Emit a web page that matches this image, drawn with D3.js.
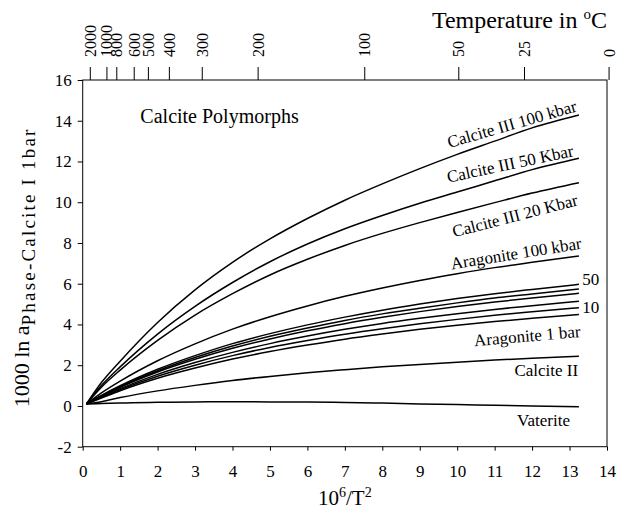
<!DOCTYPE html>
<html><head><meta charset="utf-8">
<script src="https://cdn.jsdelivr.net/npm/d3@7"></script>
<style>
body{margin:0;background:#fff;}
text{font-family:"Liberation Serif","Times New Roman",serif;fill:#000;}
</style></head>
<body><svg id="chart" width="617" height="519"></svg>
<script>
// ---- data ----
const xValues = [0.1, 0.5, 1, 2, 3, 4, 5, 6, 7, 8, 9, 10, 11, 12, 13.25];
const calciteIII100 = [0.1, 1.15, 2.2, 4.1, 5.7, 7.05, 8.2, 9.2, 10.1, 10.9, 11.65, 12.35, 13.0, 13.65, 14.28];
const calciteIII50  = [0.1, 1.0, 1.92, 3.53, 4.89, 6.06, 7.08, 7.95, 8.7, 9.35, 9.95, 10.5, 11.05, 11.6, 12.16];
const calciteIII20  = [0.1, 0.92, 1.76, 3.22, 4.46, 5.51, 6.43, 7.2, 7.88, 8.47, 9.0, 9.5, 9.98, 10.45, 10.96];
const aragonite100  = [0.1, 0.64, 1.22, 2.22, 3.05, 3.77, 4.38, 4.91, 5.38, 5.79, 6.16, 6.49, 6.79, 7.05, 7.36];
const aragonite50   = [0.1, 0.52, 0.99, 1.80, 2.47, 3.06, 3.55, 3.98, 4.36, 4.70, 5.00, 5.27, 5.51, 5.72, 5.97];
const aragonite40   = [0.1, 0.50, 0.95, 1.73, 2.38, 2.94, 3.42, 3.83, 4.20, 4.52, 4.80, 5.06, 5.30, 5.50, 5.74];
const aragonite30   = [0.1, 0.48, 0.92, 1.67, 2.29, 2.83, 3.29, 3.69, 4.04, 4.35, 4.63, 4.88, 5.10, 5.30, 5.53];
const aragonite20   = [0.1, 0.45, 0.85, 1.55, 2.13, 2.63, 3.06, 3.43, 3.76, 4.05, 4.30, 4.53, 4.74, 4.92, 5.14];
const aragonite10   = [0.1, 0.42, 0.80, 1.46, 2.00, 2.47, 2.87, 3.21, 3.52, 3.79, 4.03, 4.25, 4.45, 4.62, 4.82];
const aragonite1    = [0.1, 0.39, 0.75, 1.36, 1.86, 2.30, 2.67, 2.99, 3.28, 3.53, 3.76, 3.96, 4.14, 4.30, 4.49];
const calciteII     = [0.1, 0.21, 0.41, 0.74, 1.01, 1.25, 1.45, 1.63, 1.78, 1.92, 2.04, 2.15, 2.25, 2.34, 2.44];
const vaterite      = [0.1, 0.12, 0.15, 0.18, 0.20, 0.21, 0.20, 0.19, 0.17, 0.14, 0.10, 0.07, 0.03, 0.0, -0.04];
const seriesList = [calciteIII100, calciteIII50, calciteIII20, aragonite100, aragonite50, aragonite40,
  aragonite30, aragonite20, aragonite10, aragonite1, calciteII, vaterite];
const xTicks = [0,1,2,3,4,5,6,7,8,9,10,11,12,13,14];
const yTicks = [-2,0,2,4,6,8,10,12,14,16];
const tempTicks = [2000,1000,800,600,500,400,300,200,100,50,25,0];
const curveLabels = ["Calcite III 100 kbar","Calcite III 50 Kbar","Calcite III 20 Kbar","Aragonite 100 kbar",
  "Aragonite 1 bar","Calcite II","Vaterite","50","10"];

// ---- layout ----
const svg = d3.select("#chart");
const SERIF = "Liberation Serif, Times New Roman, serif";
const L = 82.7, R = 607, T = 80, B = 446.7;
const x = d3.scaleLinear().domain([0,14]).range([L,R]);
const y = d3.scaleLinear().domain([-2,16]).range([B,T]);
const xTop = d3.scaleLinear().domain([0,13.35]).range([L,R]);

// frame
svg.append("rect").attr("x",L).attr("y",T).attr("width",R-L).attr("height",B-T)
  .attr("fill","none").attr("stroke","#000").attr("stroke-width",1);

// bottom axis
const gx = svg.append("g").attr("transform",`translate(0,${B})`)
  .call(d3.axisBottom(x).tickValues(xTicks).tickSize(4).tickPadding(14).tickFormat(d=>String(d)));
gx.attr("font-family",SERIF).attr("font-size",17);
gx.select(".domain").remove();

// left axis
const gy = svg.append("g").attr("transform",`translate(${L},0)`)
  .call(d3.axisLeft(y).tickValues(yTicks).tickSize(5).tickPadding(6).tickFormat(d=>String(d)));
gy.attr("font-family",SERIF).attr("font-size",17);
gy.select(".domain").remove();

// top temperature axis
const tempX = t => 1e6/Math.pow(t+273.15,2);
const gt = svg.append("g").attr("transform",`translate(0,${T})`);
gt.selectAll("line").data(tempTicks).join("line")
  .attr("x1",d=>xTop(tempX(d))).attr("x2",d=>xTop(tempX(d)))
  .attr("y1",0).attr("y2",-13).attr("stroke","#000");
gt.selectAll("text").data(tempTicks).join("text")
  .attr("transform",d=>`translate(${xTop(tempX(d))+5.5},-23) rotate(-90)`)
  .attr("font-size",16).attr("text-anchor","start").text(d=>d);
svg.append("text").attr("x",R).attr("y",28).attr("text-anchor","end").attr("font-size",24)
  .html('Temperature in <tspan dy="-9" font-size="15">o</tspan><tspan dy="9">C</tspan>');

// axis titles
svg.append("text").attr("x",(L+R)/2).attr("y",505).attr("text-anchor","middle").attr("font-size",21)
  .html('10<tspan dy="-8" font-size="14">6</tspan><tspan dy="8">/T</tspan><tspan dy="-8" font-size="14">2</tspan>');
svg.append("text").attr("transform",`translate(29,${(T+B)/2+4}) rotate(-90)`).attr("text-anchor","middle")
  .attr("font-size",22)
  .html('1000 ln a<tspan dy="6" font-size="19" letter-spacing="2.2">Phase-Calcite I 1bar</tspan>');

// curves
const line = d3.line().x((d,i)=>x(xValues[i])).y(d=>y(d)).curve(d3.curveMonotoneX);
svg.append("g").selectAll("path").data(seriesList).join("path")
  .attr("d",line).attr("fill","none").attr("stroke","#000").attr("stroke-width",1.5);

// text labels
svg.append("text").attr("x",x(1.54)).attr("y",y(13.9)).attr("font-size",20).text("Calcite Polymorphs");
const labelSpec = [
  {i:0,x:11.46,y:13.85,a:-16,anchor:"middle"},
  {i:1,x:11.41,y:11.9,a:-12,anchor:"middle"},
  {i:2,x:11.54,y:9.35,a:-14.5,anchor:"middle"},
  {i:3,x:11.57,y:7.5,a:-9,anchor:"middle"},
  {i:4,x:11.87,y:3.45,a:-5,anchor:"middle"},
  {i:5,x:13.23,y:1.47,a:0,anchor:"end",base:true},
  {i:6,x:13.01,y:-0.99,a:0,anchor:"end",base:true},
  {i:7,x:13.34,y:5.94,a:0,anchor:"start",base:true},
  {i:8,x:13.34,y:4.56,a:0,anchor:"start",base:true}
];
svg.append("g").selectAll("text").data(labelSpec).join("text")
  .attr("transform",d=>`translate(${x(d.x)},${y(d.y)}) rotate(${d.a})`)
  .attr("text-anchor",d=>d.anchor).attr("dy",d=>d.base?0:"0.35em")
  .attr("font-size",17).text(d=>curveLabels[d.i]);
</script></body></html>
